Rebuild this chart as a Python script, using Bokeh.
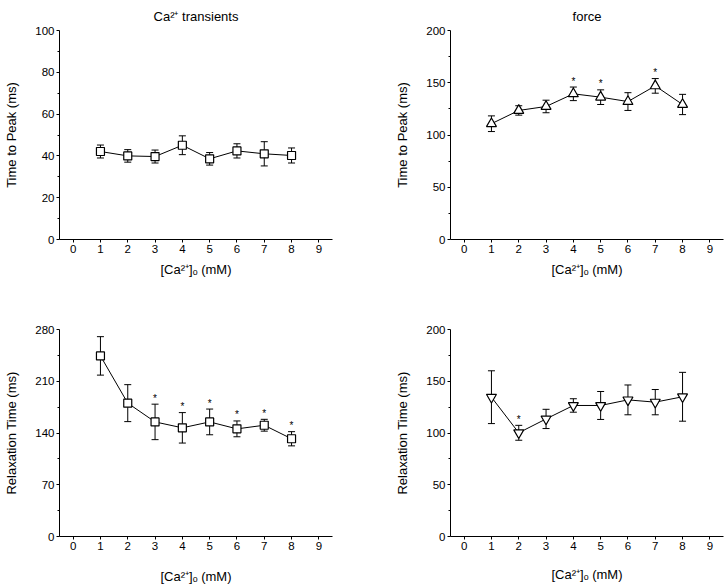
from bokeh.plotting import figure
from bokeh.layouts import column, row
from bokeh.models import ColumnDataSource, Whisker, TeeHead, FixedTicker, Range1d
from bokeh.embed import file_html
from bokeh.resources import INLINE
from bokeh.core.properties import value

# ---------------- data ----------------
conc = [1, 2, 3, 4, 5, 6, 7, 8]
x_ticks = [0, 1, 2, 3, 4, 5, 6, 7, 8, 9]
x_label = "[Ca\u00b2\u207a]\u2092 (mM)"

ca_ttp = [42.1, 40.0, 39.7, 45.1, 38.6, 42.4, 41.0, 40.2]
ca_ttp_err = [3.1, 3.0, 3.1, 4.5, 3.0, 3.4, 5.8, 3.6]
ca_ttp_sig = []
ca_ttp_ticks = [0, 20, 40, 60, 80, 100]

force_ttp = [110.8, 123.5, 127.3, 139.4, 136.2, 132.0, 147.0, 129.2]
force_ttp_err = [7.5, 4.5, 6.0, 6.5, 7.0, 8.5, 7.0, 9.7]
force_ttp_sig = [4, 5, 7]
force_ttp_ticks = [0, 50, 100, 150, 200]

ca_rt = [244.3, 180.4, 155.0, 147.0, 155.0, 145.6, 150.5, 132.2]
ca_rt_err = [26.0, 25.0, 24.0, 20.6, 17.4, 10.7, 8.0, 9.6]
ca_rt_sig = [3, 4, 5, 6, 7, 8]
ca_rt_ticks = [0, 70, 140, 210, 280]

force_rt = [134.6, 100.2, 113.6, 126.6, 126.6, 132.0, 129.8, 135.0]
force_rt_err = [25.5, 7.2, 9.3, 6.5, 13.5, 14.4, 12.2, 23.6]
force_rt_sig = [2]
force_rt_ticks = [0, 50, 100, 150, 200]

FONT = "Liberation Sans"


def panel(vals, errs, sig, ticks, marker, msize, ylabel, width, height,
          borders, xstandoff, title=None, title_offset=0):
    bl, br, bt, bb = borders
    p = figure(width=width, height=height, output_backend="svg",
               toolbar_location=None, x_range=Range1d(-0.5, 9.5),
               y_range=Range1d(0, ticks[-1]),
               min_border_left=bl, min_border_right=br,
               min_border_top=bt, min_border_bottom=bb)
    p.outline_line_color = None
    p.xgrid.visible = False
    p.ygrid.visible = False
    p.background_fill_color = "white"
    p.border_fill_color = "white"

    step = ticks[1] - ticks[0]
    minors = [t + step / 2 for t in ticks[:-1]]
    p.yaxis.ticker = FixedTicker(ticks=ticks, minor_ticks=minors)
    p.xaxis.ticker = FixedTicker(ticks=x_ticks, minor_ticks=[])

    for ax in (p.xaxis[0], p.yaxis[0]):
        ax.axis_line_color = "black"
        ax.axis_line_width = 1
        ax.major_tick_line_color = "black"
        ax.major_tick_out = 3
        ax.major_tick_in = 0
        ax.minor_tick_line_color = "black"
        ax.minor_tick_out = 2
        ax.minor_tick_in = 0
        ax.major_label_text_font = FONT
        ax.major_label_text_font_size = "11.5px"
        ax.major_label_text_color = "black"
        ax.axis_label_text_font = FONT
        ax.axis_label_text_font_size = "13px"
        ax.axis_label_text_font_style = "normal"
        ax.axis_label_text_color = "black"
        ax.major_label_standoff = 2

    p.yaxis.axis_label = ylabel
    p.yaxis.axis_label_standoff = 13
    p.xaxis.axis_label = x_label
    p.xaxis.axis_label_standoff = xstandoff

    if title:
        p.title.text = title
        p.title.align = "center"
        p.title.offset = title_offset
        p.title.text_font = FONT
        p.title.text_font_size = "13px"
        p.title.text_font_style = "normal"
        p.title.text_color = "black"
        p.title.standoff = 13

    src = ColumnDataSource(dict(
        x=conc, y=vals,
        upper=[v + e for v, e in zip(vals, errs)],
        lower=[v - e for v, e in zip(vals, errs)],
    ))
    p.add_layout(Whisker(base="x", upper="upper", lower="lower", source=src,
                         line_color="black", line_width=1,
                         upper_head=TeeHead(size=7, line_color="black", line_width=1),
                         lower_head=TeeHead(size=7, line_color="black", line_width=1)))
    p.line("x", "y", source=src, line_color="black", line_width=1)
    p.scatter("x", "y", source=src, marker=marker, size=msize,
              fill_color="white", line_color="black", line_width=1.2)

    if sig:
        sx = [c for c in sig]
        sy = [vals[c - 1] + errs[c - 1] for c in sig]
        p.text(x=sx, y=sy, text=["*"] * len(sx), text_align="center",
               text_baseline="middle", y_offset=-6,
               text_font=value(FONT), text_font_size="10px", text_color="black")
    return p


p1 = panel(ca_ttp, ca_ttp_err, ca_ttp_sig, ca_ttp_ticks, "square", 8,
           "Time to Peak (ms)", 363, 294, (59, 31, 29, 55), 6,
           title="Ca\u00b2\u207a transients", title_offset=23)
p2 = panel(force_ttp, force_ttp_err, force_ttp_sig, force_ttp_ticks, "triangle", 10,
           "Time to Peak (ms)", 361, 294, (87, 1, 29, 55), 6,
           title="force", title_offset=10)
p3 = panel(ca_rt, ca_rt_err, ca_rt_sig, ca_rt_ticks, "square", 8,
           "Relaxation Time (ms)", 363, 292, (59, 31, 35, 48), 16)
p4 = panel(force_rt, force_rt_err, force_rt_sig, force_rt_ticks, "inverted_triangle", 10,
           "Relaxation Time (ms)", 361, 292, (87, 1, 35, 48), 14)

layout = column(row(p1, p2), row(p3, p4))
open("out.html", "w").write(file_html(layout, INLINE))
